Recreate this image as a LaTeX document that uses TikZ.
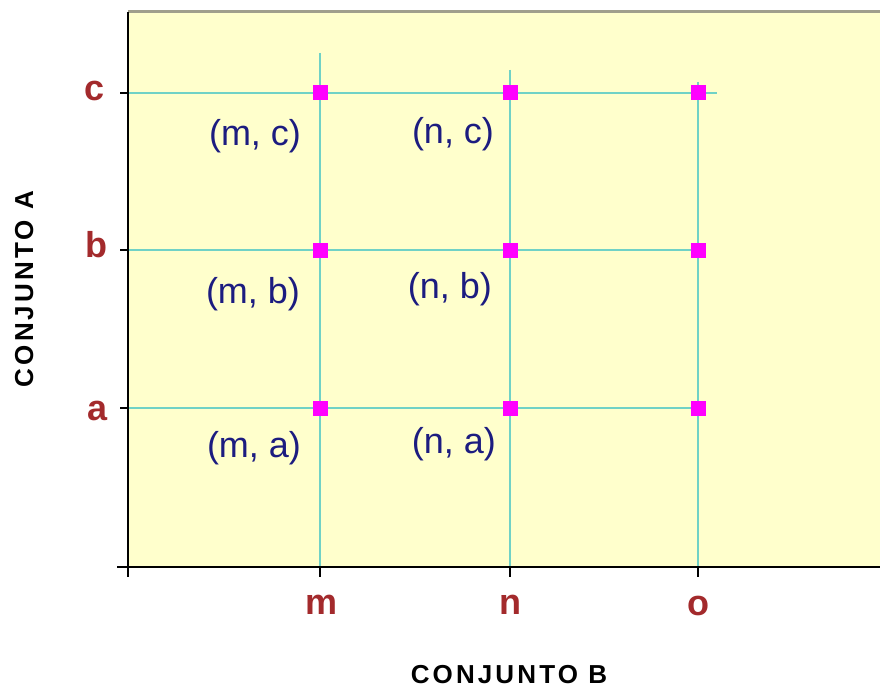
\documentclass[tikz,border=0pt]{standalone}
\usepackage{fontspec}
\setmainfont{Liberation Sans}
\newfontfamily\setfont[LetterSpace=12]{Liberation Sans}
\usetikzlibrary{positioning}

\definecolor{paper}{HTML}{FFFFCC}
\definecolor{rim}{HTML}{A09F8C}
\definecolor{gridline}{HTML}{70D2C6}
\definecolor{dot}{HTML}{FF00FF}
\definecolor{tickred}{HTML}{A32A2C}
\definecolor{pairblue}{HTML}{1C1C80}

\begin{document}
\begin{tikzpicture}[
  x=1pt,y=-1pt,
  grid/.style={gridline,line width=2.5pt},
  axis/.style={black,line width=2pt},
  dotbox/.style={fill=dot,minimum size=15pt,inner sep=0pt},
  tick/.style={anchor=base,text=tickred,font=\fontsize{36}{38}\selectfont\bfseries},
  pair/.style={anchor=base,text=pairblue,font=\fontsize{36}{38}\selectfont},
  settitle/.style={anchor=base,font=\fontsize{26}{28}\setfont\bfseries}
]
\useasboundingbox (0,0) rectangle (880,690);
\fill[paper] (128,12) rectangle (880,567);
\draw[rim,line width=3pt] (128,12) -- (880,12);

% grid points
\coordinate (mc) at (320,93);  \coordinate (nc) at (510,93);  \coordinate (oc) at (698,93);
\coordinate (mb) at (320,250); \coordinate (nb) at (510,250); \coordinate (ob) at (698,250);
\coordinate (ma) at (320,408); \coordinate (na) at (510,408); \coordinate (oa) at (698,408);
% axes
\coordinate (orig) at (128,567);
\coordinate (ytop) at (128,12);
\coordinate (xend) at (880,567);
\coordinate (xstart) at (117,567);
\coordinate (ybot) at (128,577);
\coordinate (yc) at (128,93);  \coordinate (yb) at (128,250);  \coordinate (ya) at (128,408);
\coordinate (xm) at (320,567); \coordinate (xn) at (510,567); \coordinate (xo) at (698,567);
\coordinate (mtop) at (320,53); \coordinate (ntop) at (510,70); \coordinate (otop) at (698,82);
\coordinate (cend) at (717,93);

% grid lines
\draw[grid] (yc) -- (cend);
\draw[grid] (yb) -- (ob);
\draw[grid] (ya) -- (oa);
\draw[grid] (mtop) -- (xm);
\draw[grid] (ntop) -- (xn);
\draw[grid] (otop) -- (xo);

% axes and ticks
\draw[axis] (ytop) -- (ybot);
\draw[axis] (xstart) -- (xend);
\draw[axis] (yc) -- ++(-8,0);
\draw[axis] (yb) -- ++(-8,0);
\draw[axis] (ya) -- ++(-8,0);
\draw[axis] (xm) -- ++(0,10);
\draw[axis] (xn) -- ++(0,10);
\draw[axis] (xo) -- ++(0,10);

% points
\node[dotbox] (pmc) at (mc) {}; \node[dotbox] (pnc) at (nc) {}; \node[dotbox] (poc) at (oc) {};
\node[dotbox] (pmb) at (mb) {}; \node[dotbox] (pnb) at (nb) {}; \node[dotbox] (pob) at (ob) {};
\node[dotbox] (pma) at (ma) {}; \node[dotbox] (pna) at (na) {}; \node[dotbox] (poa) at (oa) {};

% tick labels
\node[tick] (lc) at (95,101) {c};
\node[tick] (lb) at (96,257) {b};
\node[tick] (la) at (98,420) {a};
\node[tick] (lm) at (321,614) {m};
\node[tick] (ln) at (510,614) {n};
\node[tick] (lo) at (698,615) {o};

% ordered pairs
\node[pair] (tmc) at (255,146) {(m, c)};
\node[pair] (tnc) at (453,143) {(n, c)};
\node[pair] (tmb) at (253,303) {(m, b)};
\node[pair] (tnb) at (450,298) {(n, b)};
\node[pair] (tma) at (254,457) {(m, a)};
\node[pair] (tna) at (454,453) {(n, a)};

% set names
\node[settitle] (setb) at (509,683) {CONJUNTO B};
\node[settitle,rotate=90] (seta) at (33,289) {CONJUNTO A};
\end{tikzpicture}
\end{document}
